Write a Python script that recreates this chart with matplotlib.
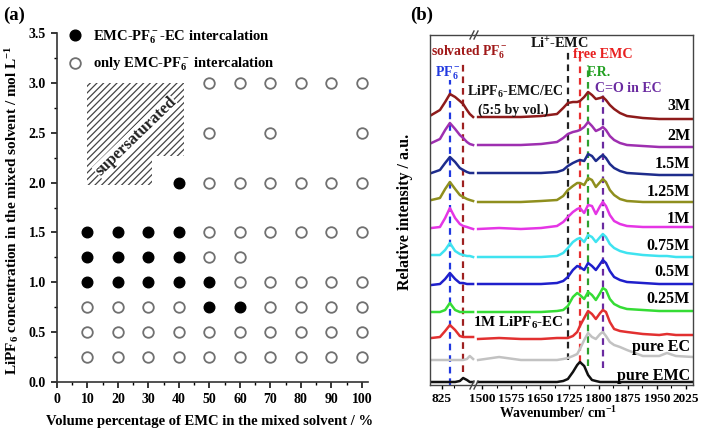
import matplotlib
matplotlib.use('Agg')
import matplotlib.pyplot as plt
from matplotlib.patches import Polygon
from matplotlib.lines import Line2D

plt.rcParams['font.family'] = ['Liberation Serif', 'DejaVu Serif']
plt.rcParams['font.weight'] = 'bold'
plt.rcParams['axes.labelweight'] = 'bold'
plt.rcParams['mathtext.fontset'] = 'custom'
plt.rcParams['mathtext.rm'] = 'Liberation Serif:bold'
plt.rcParams['mathtext.it'] = 'Liberation Serif:italic:bold'
plt.rcParams['mathtext.bf'] = 'Liberation Serif:bold'
plt.rcParams['hatch.linewidth'] = 0.9

W, H = 708, 433

# ---------------- Panel (a) data ----------------
filled_x = [10, 20, 30, 40, 10, 20, 30, 40, 10, 20, 30, 40, 40, 50, 50, 60]
filled_y = [1.0, 1.0, 1.0, 1.0, 1.25, 1.25, 1.25, 1.25, 1.5, 1.5, 1.5, 1.5, 2.0, 1.0, 0.75, 0.75]

open_x_025 = [10, 20, 30, 40, 50, 60, 70, 80, 90, 100]
open_x_050 = [10, 20, 30, 40, 50, 60, 70, 80, 90, 100]
open_x_075 = [10, 20, 30, 40, 70, 80, 90, 100]
open_x_100 = [60, 70, 80, 90, 100]
open_x_125 = [50, 60]
open_x_150 = [50, 60, 70, 80, 90, 100]
open_x_200 = [50, 60, 70, 80, 90, 100]
open_x_250 = [50, 70, 100]
open_x_300 = [50, 60, 70, 80, 90, 100]
open_levels = [0.25, 0.5, 0.75, 1.0, 1.25, 1.5, 2.0, 2.5, 3.0]
open_rows = [open_x_025, open_x_050, open_x_075, open_x_100, open_x_125,
             open_x_150, open_x_200, open_x_250, open_x_300]

super_x = [10, 41.5, 41.5, 31, 31, 10]
super_y = [3.0, 3.0, 2.27, 2.27, 1.98, 1.98]

# ---------------- Panel (b) data ----------------
left_wn = [803, 821, 832, 842, 853, 863, 870, 878, 884, 891]
right_wn = [1490, 1544, 1600, 1652, 1693, 1709, 1721, 1734, 1745, 1752, 1763, 1773, 1783,
            1793, 1804, 1811, 1819, 1829, 1840, 1855, 1873, 1914, 1956, 1976, 1999, 2043]

labels_b = ['3M', '2M', '1.5M', '1.25M', '1M', '0.75M', '0.5M', '0.25M',
            '1M LiPF6-EC', 'pure EC', 'pure EMC']
colors_b = ['#8E1B1B', '#9E2FB0', '#1E2C8C', '#8F8F1E', '#E535E5', '#3FE3F0',
            '#1F1FCB', '#35DC35', '#E23030', '#C2C2C2', '#111111']

s3M_l = [269, 274, 282, 290, 287, 283, 280, 274, 270, 267]
s3M_r = [267, 267, 267, 268, 270, 276, 281, 282, 282, 283, 287, 292, 289, 285, 286, 287, 284, 279, 275, 271, 268, 266, 265, 265, 265, 265]
s2M_l = [241, 245, 254, 261, 255, 249, 246, 242, 240, 239]
s2M_r = [239, 239, 239, 240, 242, 246, 250, 252, 253, 254, 257, 262, 258, 253, 255, 257, 254, 248, 244, 241, 239, 238, 237, 237, 237, 237]
s15_l = [211, 214, 221, 227, 222, 216, 214, 212, 211, 211]
s15_r = [211, 211, 211, 211, 212, 214, 218, 221, 223, 224, 223, 230, 228, 223, 227, 229, 226, 220, 216, 213, 211, 210, 209, 209, 209, 209]
s125_l = [184, 186, 195, 202, 195, 189, 187, 185, 184, 183]
s125_r = [182, 182, 182, 183, 184, 188, 194, 198, 201, 201, 199, 206, 204, 197, 202, 205, 202, 194, 189, 185, 183, 182, 182, 182, 182, 182]
s1M_l = [156, 157, 166, 176, 166, 160, 158, 157, 156, 155]
s1M_r = [155, 156, 155, 156, 158, 162, 167, 172, 175, 176, 171, 179, 178, 170, 178, 182, 178, 169, 163, 160, 158, 157, 157, 157, 157, 157]
s075_l = [129, 129, 134, 141, 133, 130, 129, 128, 128, 127]
s075_r = [127, 127, 127, 127, 128, 131, 136, 142, 145, 146, 142, 149, 147, 142, 147, 150, 147, 140, 136, 133, 131, 129, 128, 128, 127, 127]
s05_l = [99, 100, 105, 111, 105, 101, 101, 100, 100, 100]
s05_r = [100, 100, 100, 100, 101, 103, 107, 114, 118, 117, 114, 121, 118, 114, 120, 124, 121, 113, 107, 104, 102, 101, 100, 100, 100, 100]
s025_l = [72, 72, 74, 81, 74, 72, 72, 72, 72, 72]
s025_r = [72, 72, 72, 72, 73, 74, 78, 87, 91, 89, 85, 92, 89, 84, 91, 96, 94, 85, 80, 77, 75, 74, 73, 73, 73, 73]
sEC1M_l = [46, 47, 53, 59, 54, 48, 47, 47, 47, 47]
sEC1M_r = [45, 46, 45, 45, 46, 46, 46, 48, 52, 58, 66, 73, 70, 65, 71, 74, 72, 62, 55, 53, 52, 50, 49, 50, 49, 49]
sEC_l = [24, 24, 24, 24, 24, 24, 24, 25, 28, 25]
sEC_r = [24, 27, 24, 24, 24, 25, 26, 28, 30, 35, 44, 51, 47, 45, 50, 52, 48, 42, 39, 37, 34, 28, 28, 31, 28, 27]
sEMC_l = [2, 2, 2, 2, 2, 3, 6, 4, 2, 2]
sEMC_r = [2, 2, 2, 2, 2, 3, 5, 12, 19, 22, 18, 9, 4, 3, 2, 2, 2, 2, 2, 2, 2, 2, 2, 2, 2, 2]

spectra_l = [s3M_l, s2M_l, s15_l, s125_l, s1M_l, s075_l, s05_l, s025_l, sEC1M_l, sEC_l, sEMC_l]
spectra_r = [s3M_r, s2M_r, s15_r, s125_r, s1M_r, s075_r, s05_r, s025_r, sEC1M_r, sEC_r, sEMC_r]

# dashed guide lines: (wavenumber, top, bottom, color)
vl_left = [(842, 304, -1, '#2038E0'), (869, 324, 12, '#9E2020')]
vl_right = [(1721, 332, 24, '#222222'), (1752, 327, 22, '#E83030'),
            (1773, 319, 18, '#2EA02E'), (1811, 291, 16, '#6A2AA0')]

right_ticks = [1500, 1575, 1650, 1725, 1800, 1875, 1950, 2025]


def fx(px):
    return px / W


def fy(py):
    return 1 - py / H


fig = plt.figure(figsize=(W / 100, H / 100), dpi=100)

# ================= Panel (a) =================
axa = fig.add_axes([fx(57), fy(382), (368 - 57) / W, (382 - 33) / H])
axa.set_xlim(0, 102)
axa.set_ylim(0, 3.5)
for s in ['top', 'right']:
    axa.spines[s].set_visible(False)
for s in ['left', 'bottom']:
    axa.spines[s].set_linewidth(1.2)
    axa.spines[s].set_color('#333333')

poly = Polygon(list(zip(super_x, super_y)), closed=True, facecolor='white',
               edgecolor='#444444', hatch='/////', linewidth=0)
axa.add_patch(poly)
axa.text(25.8, 2.46, 'supersaturated', rotation=44, ha='center', va='center',
         fontsize=12, fontweight='bold', color='#222222',
         bbox=dict(facecolor='white', edgecolor='none', pad=0.3))

for lev, xs in zip(open_levels, open_rows):
    axa.scatter(xs, [lev] * len(xs), s=58, facecolor='white', edgecolor='#707070',
                linewidth=1.3, zorder=3)
axa.scatter(filled_x, filled_y, s=58, facecolor='black', edgecolor='black', zorder=3)

h1 = Line2D([], [], marker='o', linestyle='none', markersize=7.7,
            markerfacecolor='black', markeredgecolor='black')
h2 = Line2D([], [], marker='o', linestyle='none', markersize=7.7,
            markerfacecolor='white', markeredgecolor='#707070', markeredgewidth=1.3)
leg = axa.legend([h1, h2], ['EMC-PF$_6^-$-EC intercalation', 'only EMC-PF$_6^-$ intercalation'],
                 loc='upper left', bbox_to_anchor=(fx(68), fy(28)),
                 bbox_transform=fig.transFigure, frameon=False, fontsize=10.5,
                 handlelength=1.0, handletextpad=0.7, labelspacing=0.7, borderpad=0,
                 borderaxespad=0)

axa.set_xticks(range(0, 101, 10))
axa.set_xticks(range(5, 101, 10), minor=True)
axa.set_yticks([0, 0.5, 1.0, 1.5, 2.0, 2.5, 3.0, 3.5])
axa.set_yticklabels(['0.0', '0.5', '1.0', '1.5', '2.0', '2.5', '3.0', '3.5'])
axa.set_yticks([0.25, 0.75, 1.25, 1.75, 2.25, 2.75, 3.25], minor=True)
axa.tick_params(which='major', direction='out', length=4, width=1.1, labelsize=10, pad=4)
axa.tick_params(which='minor', direction='out', length=2.5, width=1.0)
for lab in axa.get_xticklabels() + axa.get_yticklabels():
    lab.set_fontweight('bold')
fig.text(fx(210), fy(422), 'Volume percentage of EMC in the mixed solvent / %',
         ha='center', va='center', fontsize=10.5, fontweight='bold')
fig.text(fx(12), fy(210), 'LiPF$_6$ concentration in the mixed solvent / mol L$^{-1}$',
         ha='center', va='center', rotation=90, fontsize=11, fontweight='bold')
fig.text(fx(3), fy(15), '(a)', ha='left', va='center', fontsize=13.5, fontweight='bold')

# ================= Panel (b) =================
bot, top = 385, 35
axl = fig.add_axes([fx(430), fy(bot), (475 - 430) / W, (bot - top) / H])
axr = fig.add_axes([fx(475), fy(bot), (693 - 475) / W, (bot - top) / H])
ylim = (-1, 349)
axl.set_xlim(800, 895)
axr.set_xlim(1482, 2043)
for ax in (axl, axr):
    ax.set_ylim(*ylim)
    ax.set_yticks([])
    for s in ax.spines.values():
        s.set_linewidth(1.0)
        s.set_color('#444444')
axl.spines['right'].set_visible(False)
axr.spines['left'].set_visible(False)

for (wn, y0, y1, c) in vl_left:
    axl.plot([wn, wn], [y1, y0], color=c, lw=1.6, dashes=(3, 2.2), zorder=1)
for (wn, y0, y1, c) in vl_right:
    axr.plot([wn, wn], [y1, y0], color=c, lw=1.6, dashes=(3, 2.2), zorder=1)

for yl, yr, c in zip(spectra_l, spectra_r, colors_b):
    axl.plot(left_wn, yl, color=c, lw=1.8, solid_joinstyle='round', zorder=2)
    axr.plot(right_wn, yr, color=c, lw=1.8, solid_joinstyle='round', zorder=2)

axl.set_xticks([825])
axl.set_xticks([850], minor=True)
axr.set_xticks(right_ticks)
axr.set_xticks([t + 37.5 for t in right_ticks[:-1]], minor=True)
for ax in (axl, axr):
    ax.tick_params(which='major', direction='out', length=3, width=1.0, labelsize=9.5, pad=3)
    ax.tick_params(which='minor', direction='out', length=2, width=0.8)
    for lab in ax.get_xticklabels():
        lab.set_fontweight('bold')

# break marks
for yy in (top, bot):
    for xx in (470, 474):
        fig.add_artist(Line2D([fx(xx), fx(xx + 4)], [fy(yy + 4), fy(yy - 4)],
                              color='#444444', lw=1.0))

# spectrum labels
conc_y = [106, 136, 164, 192, 219, 246, 272, 299, None, 347, 376]
for lab, yy in zip(labels_b, conc_y):
    if yy is None:
        continue
    fig.text(fx(690), fy(yy), lab, ha='right', va='center', fontsize=11.5, fontweight='bold')
fig.text(fx(473), fy(323), '1M LiPF$_6$-EC', ha='left', va='center', fontsize=10.8, fontweight='bold')

fig.text(fx(431), fy(52), 'solvated PF$_6^-$', ha='left', va='center', fontsize=9.8,
         fontweight='bold', color='#A01818')
fig.text(fx(559), fy(44), 'Li$^{+}$-EMC', ha='center', va='center', fontsize=10.3,
         fontweight='bold', color='#111111')
fig.text(fx(573), fy(55), 'free EMC', ha='left', va='center', fontsize=10.2,
         fontweight='bold', color='#E82020')
fig.text(fx(587), fy(72), 'F.R.', ha='left', va='center', fontsize=10,
         fontweight='bold', color='#22A022')
fig.text(fx(595), fy(88), 'C=O in EC', ha='left', va='center', fontsize=10,
         fontweight='bold', color='#6A2AA0')
fig.text(fx(435), fy(73), 'PF$_6^-$', ha='left', va='center', fontsize=10,
         fontweight='bold', color='#2038E0')
fig.text(fx(467), fy(92), 'LiPF$_6$-EMC/EC', ha='left', va='center', fontsize=10,
         fontweight='bold', color='#111111')
fig.text(fx(478), fy(110), '(5:5 by vol.)', ha='left', va='center', fontsize=10,
         fontweight='bold', color='#111111')

fig.text(fx(558), fy(413), 'Wavenumber/ cm$^{-1}$', ha='center', va='center',
         fontsize=10, fontweight='bold')
fig.text(fx(405), fy(212), 'Relative intensity / a.u.', ha='center', va='center',
         rotation=90, fontsize=11.5, fontweight='bold')
fig.text(fx(410), fy(15), '(b)', ha='left', va='center', fontsize=13.5, fontweight='bold')

fig.savefig('out.png', dpi=100)
